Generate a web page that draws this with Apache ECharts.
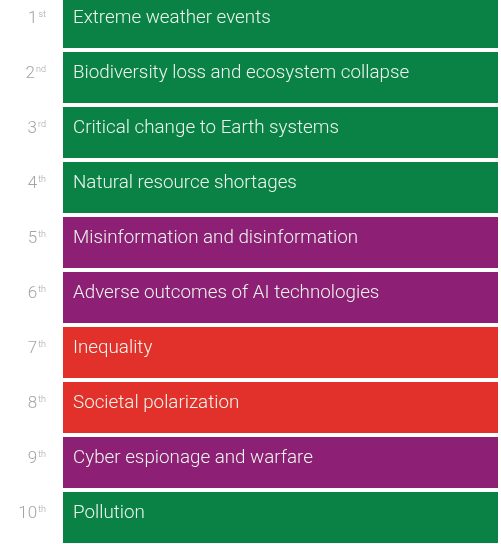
<!DOCTYPE html>
<html>
<head>
<meta charset="utf-8">
<script src="https://cdn.jsdelivr.net/npm/echarts@6/dist/echarts.min.js"></script>
<style>
html,body{margin:0;padding:0;background:#fff;}
#chart{width:501px;height:544px;}
</style>
</head>
<body>
<div id="chart"></div>
<script>
const risks = [
  "Extreme weather events",
  "Biodiversity loss and ecosystem collapse",
  "Critical change to Earth systems",
  "Natural resource shortages",
  "Misinformation and disinformation",
  "Adverse outcomes of AI technologies",
  "Inequality",
  "Societal polarization",
  "Cyber espionage and warfare",
  "Pollution"
];
const rankNumbers = ["1","2","3","4","5","6","7","8","9","10"];
const rankSuffixes = ["st","nd","rd","th","th","th","th","th","th","th"];
const riskGroups = ["environmental","environmental","environmental","environmental","technological","technological","societal","societal","technological","environmental"];
const barValues = [1,1,1,1,1,1,1,1,1,1];

const groupColors = {
  environmental: "#0b8245",
  technological: "#8d1f74",
  societal: "#e2312b"
};

const chart = echarts.init(document.getElementById('chart'));
chart.setOption({
  animation: false,
  grid: { left: 63, right: 3, top: -5, bottom: -1, containLabel: false, outerBoundsMode: 'none' },
  xAxis: { type: 'value', min: 0, max: 1, show: false },
  yAxis: {
    type: 'category',
    inverse: true,
    data: risks.map((r, i) => i),
    axisLine: { show: false },
    axisTick: { show: false },
    axisLabel: {
      margin: 17,
      formatter: (v) => '{n|' + rankNumbers[v] + '}{s|' + rankSuffixes[v] + '}',
      rich: {
        n: { fontFamily: 'Roboto', fontWeight: 300, fontSize: 17, color: '#a4a4a4', padding: [0, 0, 8, 0] },
        s: { fontFamily: 'Roboto', fontWeight: 300, fontSize: 9, color: '#a4a4a4', padding: [0, 0, 16, 1] }
      }
    }
  },
  series: [{
    type: 'bar',
    data: barValues.map((v, i) => ({ value: v, itemStyle: { color: groupColors[riskGroups[i]] } })),
    barCategoryGap: '7.5%',
    label: {
      show: true,
      position: 'insideLeft',
      offset: [0, -4],
      distance: 10,
      formatter: (p) => risks[p.dataIndex],
      fontFamily: 'Roboto',
      fontWeight: 300,
      fontSize: 18.8,
      color: '#eef6ef'
    }
  }]
});
</script>
</body>
</html>
